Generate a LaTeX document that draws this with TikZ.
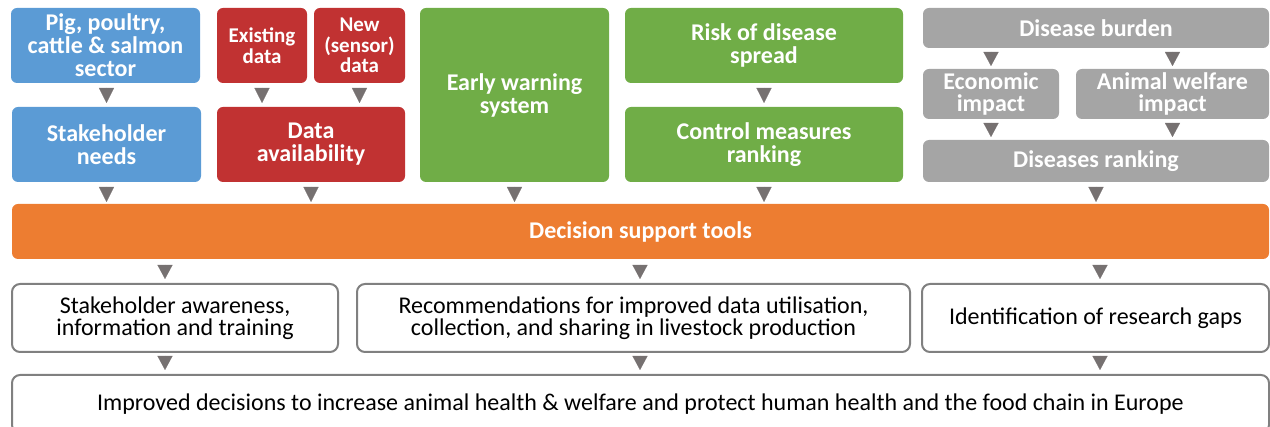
\documentclass[tikz,border=0pt]{standalone}
\usepackage{fontspec}
\setmainfont{Carlito}
\usetikzlibrary{arrows.meta}
\definecolor{cblue}{RGB}{91,155,213}
\definecolor{cred}{RGB}{193,50,50}
\definecolor{cgreen}{RGB}{112,173,71}
\definecolor{corange}{RGB}{237,125,49}
\definecolor{cgrey}{RGB}{165,165,165}
\definecolor{carrow}{RGB}{118,113,113}
\definecolor{cborder}{RGB}{128,128,128}
\begin{document}
\begin{tikzpicture}[x=1pt,y=-1pt,
  box/.style={rounded corners=6pt, inner sep=0pt, outer sep=0pt, align=center,
    font=\bfseries\fontsize{24}{23}\selectfont, text=white},
  smallbox/.style={box, font=\bfseries\fontsize{21}{20.5}\selectfont},
  wbox/.style={draw=cborder, line width=2pt, rounded corners=8pt, fill=white,
    inner sep=0pt, outer sep=0pt, align=center, text=black,
    font=\fontsize{24}{22.5}\selectfont},
  tri/.style n args={3}{draw=carrow, fill=carrow, line width=0.1pt,
    shorten <=#1pt, shorten >=#2pt, -{Triangle[width=15pt,length=#3pt]}}]
\useasboundingbox (0,0) rectangle (1270,427);
% blue column
\node[box, fill=cblue, minimum width=189pt, minimum height=75pt] (pig) at (105.5,45.5) {Pig, poultry,\\cattle \& salmon\\sector};
\node[box, fill=cblue, minimum width=189pt, minimum height=75pt] (needs) at (106.5,144.5) {Stakeholder\\needs};
% red column
\node[smallbox, fill=cred, minimum width=90pt, minimum height=75pt] (exist) at (262,45.5) {Existing\\data};
\node[smallbox, fill=cred, minimum width=91pt, minimum height=75pt] (new) at (359.5,45.5) {New\\(sensor)\\data};
\node[box, fill=cred, minimum width=188pt, minimum height=75pt] (avail) at (311,144.5) {Data\\availability};
% green
\node[box, fill=cgreen, minimum width=189pt, minimum height=174pt] (early) at (514.5,95) {Early warning\\system};
\node[box, fill=cgreen, minimum width=278pt, minimum height=75pt] (risk) at (764,45.5) {Risk of disease\\spread};
\node[box, fill=cgreen, minimum width=278pt, minimum height=75pt] (control) at (764,144.5) {Control measures\\ranking};
% grey
\node[box, fill=cgrey, minimum width=346pt, minimum height=40pt] (burden) at (1096,28) {Disease burden};
\node[box, fill=cgrey, minimum width=136pt, minimum height=50pt, font=\bfseries\fontsize{24}{22}\selectfont] (econ) at (991,94) {Economic\\impact};
\node[box, fill=cgrey, minimum width=193pt, minimum height=50pt, font=\bfseries\fontsize{24}{22}\selectfont] (aw) at (1172.5,94) {Animal welfare\\impact};
\node[box, fill=cgrey, minimum width=346pt, minimum height=42pt] (rank) at (1096,161) {Diseases ranking};
% orange
\node[box, fill=corange, minimum width=1257pt, minimum height=55pt] (dst) at (640.5,231.5) {Decision support tools};
% white row
\node[wbox, minimum width=326pt, minimum height=68pt] (aware) at (175,318) {Stakeholder awareness,\\information and training};
\node[wbox, minimum width=553pt, minimum height=68pt] (recom) at (633.5,318) {Recommendations for improved data utilisation,\\collection, and sharing in livestock production};
\node[wbox, minimum width=347pt, minimum height=68pt] (ident) at (1095.5,318) {Identification of research gaps};
\node[wbox, minimum width=1257pt, minimum height=58pt] (improved) at (640.5,404) {\raisebox{3pt}{Improved decisions to increase animal health \& welfare and protect human health and the food chain in Europe}};
% helper x positions
\coordinate (c1) at (165,0);
\coordinate (c2) at (640,0);
\coordinate (c3) at (1100,0);
% arrows top part
\draw[tri={5}{4}{15}] (needs.north |- pig.south) -- (needs.north);
\draw[tri={5}{4}{15}] (exist.south) -- (exist.south |- avail.north);
\draw[tri={5}{4}{15}] (new.south) -- (new.south |- avail.north);
\draw[tri={5}{4}{15}] (risk.south) -- (control.north);
\draw[tri={4}{3}{14}] (econ.north |- burden.south) -- (econ.north);
\draw[tri={4}{3}{14}] (aw.north |- burden.south) -- (aw.north);
\draw[tri={4}{3}{14}] (econ.south) -- (econ.south |- rank.north);
\draw[tri={4}{3}{14}] (aw.south) -- (aw.south |- rank.north);
% into orange
\draw[tri={5}{2}{15}] (needs.south) -- (needs.south |- dst.north);
\draw[tri={5}{2}{15}] (avail.south) -- (avail.south |- dst.north);
\draw[tri={5}{2}{15}] (early.south) -- (early.south |- dst.north);
\draw[tri={5}{2}{15}] (control.south) -- (control.south |- dst.north);
\draw[tri={5}{2}{15}] (rank.south) -- (rank.south |- dst.north);
% out of orange
\draw[tri={6}{5}{14}] (dst.south -| c1) -- (aware.north -| c1);
\draw[tri={6}{5}{14}] (dst.south -| c2) -- (recom.north -| c2);
\draw[tri={6}{5}{14}] (dst.south -| c3) -- (ident.north -| c3);
% into bottom
\draw[tri={4}{5}{14}] (aware.south -| c1) -- (improved.north -| c1);
\draw[tri={4}{5}{14}] (recom.south -| c2) -- (improved.north -| c2);
\draw[tri={4}{5}{14}] (ident.south -| c3) -- (improved.north -| c3);
\end{tikzpicture}
\end{document}
